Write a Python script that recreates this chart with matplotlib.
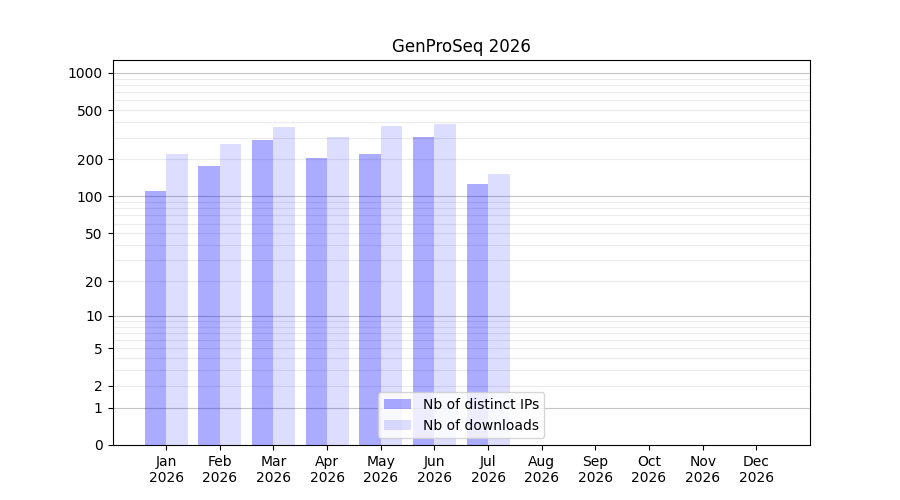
import matplotlib
matplotlib.use("Agg")
import matplotlib.pyplot as plt
import numpy as np

# --- data ---
months = ["Jan", "Feb", "Mar", "Apr", "May", "Jun", "Jul", "Aug", "Sep", "Oct", "Nov", "Dec"]
year = 2026
distinct_ips = [111, 177, 287, 205, 221, 304, 126, 0, 0, 0, 0, 0]
downloads = [221, 266, 366, 304, 373, 387, 152, 0, 0, 0, 0, 0]
ytick_values = [0, 1, 2, 5, 10, 20, 50, 100, 200, 500, 1000]


def fwd(v):
    return np.log10(1 + np.asarray(v, dtype=float))


def inv(v):
    return 10 ** np.asarray(v, dtype=float) - 1


# --- plot ---
fig, ax = plt.subplots(figsize=(9, 5), dpi=100)
x = np.arange(len(months))
width = 0.4

ax.set_yscale("function", functions=(fwd, inv))

ax.bar(x, distinct_ips, -width, align="edge", color="blue", alpha=0.33,
       label="Nb of distinct IPs", zorder=2)
ax.bar(x, downloads, width, align="edge", color="blue", alpha=0.135,
       label="Nb of downloads", zorder=2)

# grid: decades darker, intermediate lighter
for dec in [1, 10, 100]:
    for m in range(2, 10):
        ax.axhline(dec * m, color="#ebebeb", lw=0.8, zorder=0)
for dec in [1, 10, 100, 1000]:
    ax.axhline(dec, color="#c4c4c4", lw=0.8, zorder=1)

ax.set_yticks(ytick_values)
ax.set_yticklabels([str(v) for v in ytick_values])
ax.minorticks_off()
ax.set_ylim(0, 1270)

ax.set_xticks(x)
ax.set_xticklabels([f"{m}\n{year}" for m in months])
ax.set_xlim(-1, 12)

ax.set_title(f"GenProSeq {year}")
ax.legend(loc="lower center")

fig.savefig("out.png")
